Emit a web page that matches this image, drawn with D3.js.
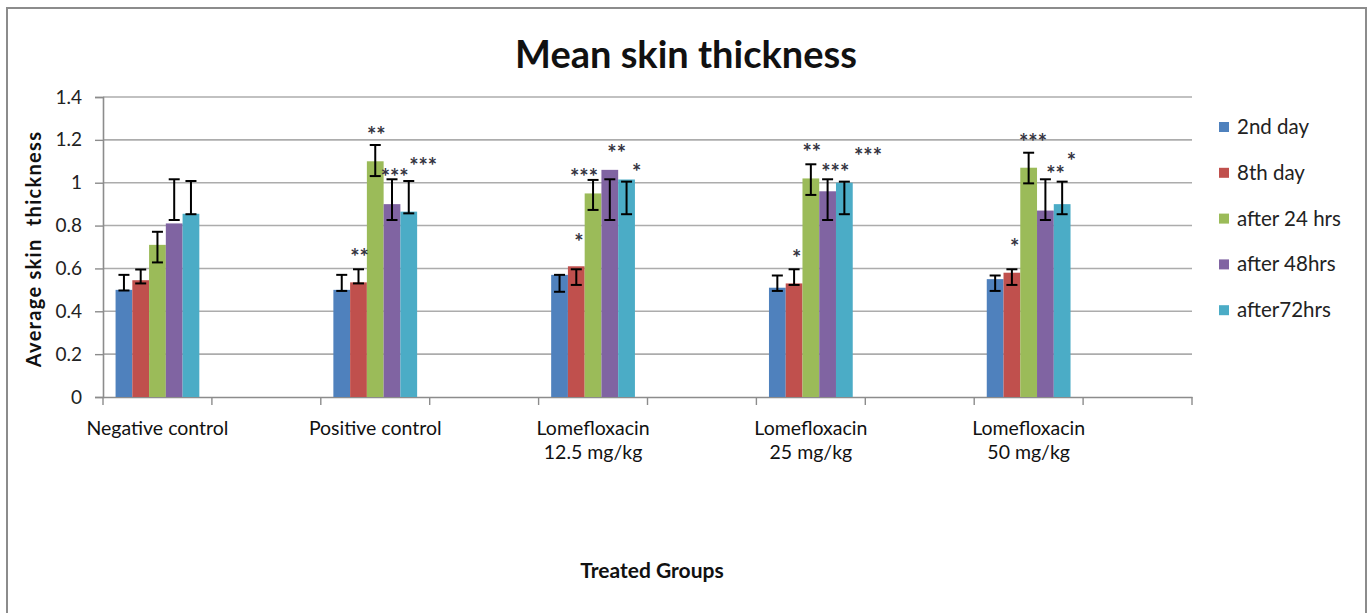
<!DOCTYPE html>
<html>
<head>
<meta charset="utf-8">
<script src="https://cdn.jsdelivr.net/npm/d3@7"></script>
<style>
    body { margin: 0; background: #fff; }
    text { font-family: Lato, "Open Sans", sans-serif; }
</style>
</head>
<body>
<svg id="chart" width="1371" height="613"></svg>
<script>

// categories on the x axis (empty slots are blank rows in the sheet)
var categories = ["Negative control", "", "Positive control", "", "Lomefloxacin\n12.5 mg/kg", "",
    "Lomefloxacin\n25 mg/kg", "", "Lomefloxacin\n50 mg/kg", ""];
var groups = ["Negative control", "Positive control", "Lomefloxacin\n12.5 mg/kg",
    "Lomefloxacin\n25 mg/kg", "Lomefloxacin\n50 mg/kg"];
var seriesNames = ["2nd day", "8th day", "after 24 hrs", "after 48hrs", "after72hrs"];
var seriesColors = ["#4f81bd", "#c0504d", "#9bbb59", "#8064a2", "#4bacc6"];

// mean values, one list per series (same order as groups)
var day2 = [0.50, 0.50, 0.57, 0.51, 0.55];
var day8 = [0.545, 0.535, 0.61, 0.53, 0.58];
var hrs24 = [0.71, 1.10, 0.95, 1.02, 1.07];
var hrs48 = [0.81, 0.90, 1.06, 0.96, 0.87];
var hrs72 = [0.855, 0.865, 1.015, 1.00, 0.90];

// error bar ends (upper / lower), as drawn in the sheet
var errHigh = [
    [0.57, 0.57, 0.57, 0.567, 0.567],
    [0.595, 0.596, 0.596, 0.596, 0.596],
    [0.771, 1.176, 1.013, 1.086, 1.14],
    [1.016, 1.016, 1.016, 1.016, 1.016],
    [1.008, 1.008, 1.005, 1.005, 1.005]
];
var errLow = [
    [0.497, 0.495, 0.491, 0.495, 0.495],
    [0.53, 0.53, 0.523, 0.523, 0.523],
    [0.628, 1.031, 0.873, 0.943, 0.997],
    [0.826, 0.826, 0.826, 0.826, 0.826],
    [0.853, 0.857, 0.853, 0.853, 0.853]
];

// significance marks: [group, series, text, level on y axis, shift in bar widths]
var stars = [
    [1, 1, "**", 0.673, 0], [1, 2, "**", 1.243, 0], [1, 3, "***", 1.044, 0.1], [1, 4, "***", 1.098, 0.8],
    [2, 1, "*", 0.742, 0.1], [2, 2, "***", 1.045, -0.6], [2, 3, "**", 1.157, 0.35], [2, 4, "*", 1.069, 0.55],
    [3, 1, "*", 0.667, 0.1], [3, 2, "**", 1.16, 0], [3, 3, "***", 1.07, 0.4], [3, 4, "***", 1.145, 1.35],
    [4, 1, "*", 0.719, 0.1], [4, 2, "***", 1.209, 0.2], [4, 3, "**", 1.059, 0.55], [4, 4, "*", 1.12, 0.5]
];

var yTicks = [0, 0.2, 0.4, 0.6, 0.8, 1, 1.2, 1.4];
var yTickLabels = ["0", "0.2", "0.4", "0.6", "0.8", "1", "1.2", "1.4"];


BarChart = function (_parentElement) {
    this.parentElement = _parentElement;
    this.series = [day2, day8, hrs24, hrs48, hrs72];
    this.initVis();
}

BarChart.prototype.initVis = function () {
    var vis = this;
    vis.svg = d3.select("#" + vis.parentElement);
    vis.left = 103;
    vis.right = 1192;
    vis.top = 97;
    vis.bottom = 397;

    vis.x = d3.scaleBand()
        .domain(d3.range(categories.length))
        .range([vis.left, vis.right]);

    // excel gap width 150% -> 0.75 bar on each side
    vis.xInner = d3.scaleBand()
        .domain(d3.range(seriesNames.length))
        .range([0, vis.x.bandwidth()])
        .paddingOuter(0.75);

    vis.y = d3.scaleLinear()
        .domain([0, 1.4])
        .range([vis.bottom, vis.top]);

    vis.updateVis();
}

BarChart.prototype.groupX = function (g) {
    return this.x(categories.indexOf(groups[g]));
}

BarChart.prototype.updateVis = function () {
    var vis = this;
    var svg = vis.svg;

    // outer frame
    svg.append("rect")
        .attr("x", 7).attr("y", 8)
        .attr("width", 1359).attr("height", 640)
        .attr("fill", "none")
        .attr("stroke", "#8c8c8c")
        .attr("stroke-width", 2);

    // gridlines
    svg.append("g").selectAll("line")
        .data(yTicks.slice(1))
        .enter().append("line")
        .attr("x1", vis.left).attr("x2", vis.right)
        .attr("y1", d => vis.y(d)).attr("y2", d => vis.y(d))
        .attr("stroke", "#acacac")
        .attr("stroke-width", 1.6);

    // y axis
    vis.yAxis = d3.axisLeft(vis.y)
        .tickValues(yTicks)
        .tickSize(8)
        .tickPadding(13)
        .tickFormat((d, i) => yTickLabels[i]);

    var yg = svg.append("g")
        .attr("transform", "translate(" + vis.left + ",0)")
        .call(vis.yAxis);
    yg.select(".domain").attr("stroke", "#8c8c8c").attr("stroke-width", 1.6);
    yg.selectAll(".tick line").attr("stroke", "#8c8c8c").attr("stroke-width", 1.4);
    yg.selectAll(".tick text")
        .attr("fill", "#222")
        .style("font-size", "19px")
        .style("font-family", "Lato");

    // x axis
    vis.xAxis = d3.axisBottom(vis.x).tickSize(0).tickFormat("");
    var xg = svg.append("g")
        .attr("transform", "translate(0," + vis.bottom + ")")
        .call(vis.xAxis);
    xg.select(".domain").attr("stroke", "#8c8c8c").attr("stroke-width", 1.6);

    // tick marks at category boundaries
    var bounds = d3.range(categories.length + 1).map(i => vis.left + i * vis.x.step());
    xg.selectAll(".bound")
        .data(bounds)
        .enter().append("line")
        .attr("class", "bound")
        .attr("x1", d => d).attr("x2", d => d)
        .attr("y1", 0).attr("y2", 8)
        .attr("stroke", "#8c8c8c")
        .attr("stroke-width", 1.4);

    // category labels
    var labels = svg.append("g").selectAll("text")
        .data(categories)
        .enter().append("text")
        .attr("text-anchor", "middle")
        .attr("fill", "#111")
        .style("font-size", "19.5px")
        .attr("transform", (d, i) => "translate(" + (vis.x(i) + vis.x.bandwidth() / 2) + "," + 435 + ")");
    labels.selectAll("tspan")
        .data(d => d.split("\n"))
        .enter().append("tspan")
        .attr("x", 0)
        .attr("dy", (d, i) => i == 0 ? 0 : 24)
        .text(d => d);

    // bars
    vis.series.forEach(function (values, s) {
        svg.append("g").selectAll("rect")
            .data(values)
            .enter().append("rect")
            .attr("x", (d, g) => vis.groupX(g) + vis.xInner(s))
            .attr("width", vis.xInner.bandwidth())
            .attr("y", d => vis.y(d))
            .attr("height", d => vis.bottom - vis.y(d))
            .attr("fill", seriesColors[s]);
    });

    // error bars
    var capW = 11;
    vis.series.forEach(function (values, s) {
        var eg = svg.append("g").attr("stroke", "#000").attr("stroke-width", 2);
        values.forEach(function (v, g) {
            var cx = vis.groupX(g) + vis.xInner(s) + vis.xInner.bandwidth() / 2;
            var hi = vis.y(errHigh[s][g]);
            var lo = vis.y(errLow[s][g]);
            eg.append("line").attr("x1", cx).attr("x2", cx).attr("y1", hi).attr("y2", lo);
            eg.append("line").attr("x1", cx - capW / 2).attr("x2", cx + capW / 2).attr("y1", hi).attr("y2", hi);
            eg.append("line").attr("x1", cx - capW / 2).attr("x2", cx + capW / 2).attr("y1", lo).attr("y2", lo);
        });
    });

    // significance stars
    svg.append("g").selectAll("text")
        .data(stars)
        .enter().append("text")
        .attr("text-anchor", "middle")
        .attr("x", d => vis.groupX(d[0]) + vis.xInner(d[1]) + vis.xInner.bandwidth() * (0.5 + d[4]) + 1)
        .attr("y", d => vis.y(d[3]) + 12)
        .attr("fill", "#333340")
        .style("font-size", "22px")
        .style("font-weight", "bold")
        .text(d => d[2]);

    // legend
    var legend = svg.append("g").selectAll("g")
        .data(seriesNames)
        .enter().append("g")
        .attr("transform", (d, i) => "translate(1219," + (127 + i * 45.8) + ")");
    legend.append("rect")
        .attr("x", 0).attr("y", -5)
        .attr("width", 10).attr("height", 10)
        .attr("fill", (d, i) => seriesColors[i]);
    legend.append("text")
        .attr("x", 18).attr("y", 7)
        .attr("fill", "#222")
        .style("font-size", "20.5px")
        .text(d => d);

    // titles
    svg.append("text")
        .attr("x", 686).attr("y", 68)
        .attr("text-anchor", "middle")
        .attr("fill", "#111")
        .style("font-size", "38px")
        .style("font-weight", "bold")
        .text("Mean skin thickness");

    svg.append("text")
        .attr("transform", "translate(41,249) rotate(-90)")
        .attr("text-anchor", "middle")
        .attr("fill", "#111")
        .style("font-size", "20px")
        .style("font-weight", "bold")
        .style("letter-spacing", "1.3px")
        .style("white-space", "pre")
        .text("Average skin  thickness");

    svg.append("text")
        .attr("x", 652).attr("y", 578)
        .attr("text-anchor", "middle")
        .attr("fill", "#111")
        .style("font-size", "21px")
        .style("font-weight", "bold")
        .text("Treated Groups");
}

var chart = new BarChart("chart");
</script>
</body>
</html>
